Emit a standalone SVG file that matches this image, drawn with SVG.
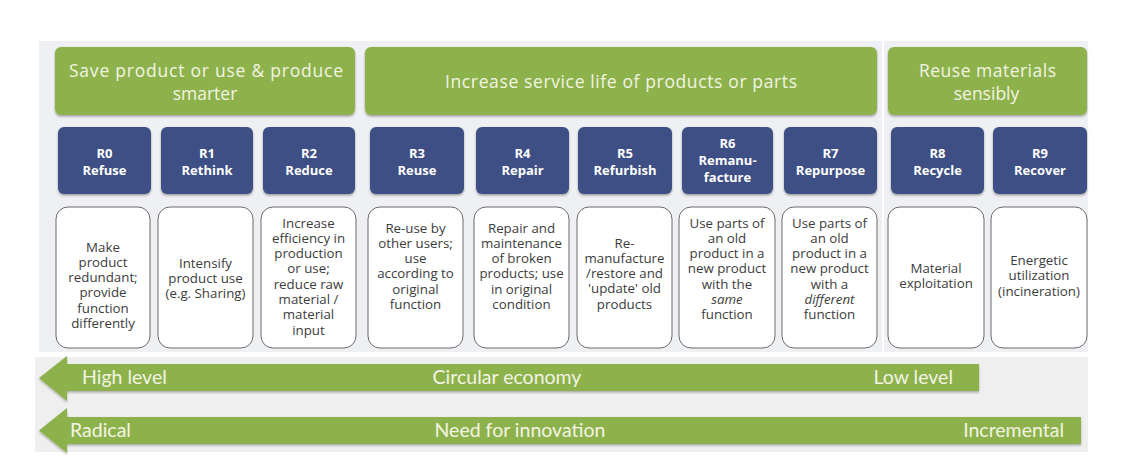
<svg xmlns="http://www.w3.org/2000/svg" width="1146" height="468" viewBox="0 0 1146 468">
<style>
.bg{fill:#eff0f3}
.bg2{fill:#efefef}
.hdr{fill:#8eb24b;filter:url(#sh)}
.htx{font-family:"Open Sans","Noto Sans",sans-serif;font-size:17.5px;fill:#f1f4e4;text-anchor:middle}
.rb{fill:#3d5084;filter:url(#sh)}
.rtx{font-family:"Open Sans","Noto Sans",sans-serif;font-size:13px;font-weight:bold;fill:#ffffff;text-anchor:middle}
.db{fill:#ffffff;stroke:#6a6a6a;stroke-width:1}
.dtx{font-family:"Open Sans","Noto Sans",sans-serif;font-size:13.3px;fill:#3c3c3c;text-anchor:middle}
.arw{fill:#8eb24b;filter:url(#sh2)}
.atx{font-family:Lato,"Open Sans",sans-serif;font-size:19.5px;fill:#f1f4e4}
</style>
<defs>
<filter id="sh" x="-10%" y="-10%" width="120%" height="130%">
<feDropShadow dx="0" dy="1.5" stdDeviation="1.2" flood-color="#000" flood-opacity="0.35"/>
</filter>
<filter id="sh2" x="-5%" y="-20%" width="110%" height="150%">
<feDropShadow dx="0" dy="1.5" stdDeviation="1" flood-color="#000" flood-opacity="0.3"/>
</filter>
</defs>
<rect width="1146" height="468" fill="#ffffff"/>
<rect class="bg" x="39" y="41" width="843" height="311"/>
<rect class="bg" x="884" y="41" width="204" height="311"/>
<rect class="bg2" x="35" y="357" width="1053" height="95"/>

<g id="header-save">
<rect class="hdr" x="55" y="47" width="300" height="68" rx="6"/>
<text class="htx" x="206" y="77" textLength="274" lengthAdjust="spacing">Save product or use &amp; produce</text>
<text class="htx" x="205" y="100">smarter</text>
</g>
<g id="header-increase">
<rect class="hdr" x="365" y="47" width="512" height="68" rx="6"/>
<text class="htx" x="621" y="88" textLength="352" lengthAdjust="spacing">Increase service life of products or parts</text>
</g>
<g id="header-reuse">
<rect class="hdr" x="888" y="47" width="199" height="68" rx="6"/>
<text class="htx" x="987.5" y="77" textLength="137" lengthAdjust="spacing">Reuse materials</text>
<text class="htx" x="986.5" y="100">sensibly</text>
</g>

<g id="r0">
<rect class="rb" x="58" y="127" width="93" height="67" rx="6"/>
<text class="rtx" x="104.5" y="158">R0</text><text class="rtx" x="104.5" y="175">Refuse</text>
</g>
<g id="r1">
<rect class="rb" x="161" y="127" width="92" height="67" rx="6"/>
<text class="rtx" x="207" y="158">R1</text><text class="rtx" x="207" y="175">Rethink</text>
</g>
<g id="r2">
<rect class="rb" x="263" y="127" width="92" height="67" rx="6"/>
<text class="rtx" x="309" y="158">R2</text><text class="rtx" x="309" y="175">Reduce</text>
</g>
<g id="r3">
<rect class="rb" x="370" y="127" width="94" height="67" rx="6"/>
<text class="rtx" x="417" y="158">R3</text><text class="rtx" x="417" y="175">Reuse</text>
</g>
<g id="r4">
<rect class="rb" x="476" y="127" width="93" height="67" rx="6"/>
<text class="rtx" x="522.5" y="158">R4</text><text class="rtx" x="522.5" y="175">Repair</text>
</g>
<g id="r5">
<rect class="rb" x="578" y="127" width="94" height="67" rx="6"/>
<text class="rtx" x="625" y="158">R5</text><text class="rtx" x="625" y="175">Refurbish</text>
</g>
<g id="r6">
<rect class="rb" x="682" y="127" width="91" height="67" rx="6"/>
<text class="rtx" x="727.5" y="148">R6</text><text class="rtx" x="727.5" y="165">Remanu-</text><text class="rtx" x="727.5" y="182">facture</text>
</g>
<g id="r7">
<rect class="rb" x="784" y="127" width="93" height="67" rx="6"/>
<text class="rtx" x="830.5" y="158">R7</text><text class="rtx" x="830.5" y="175">Repurpose</text>
</g>
<g id="r8">
<rect class="rb" x="891" y="127" width="93" height="67" rx="6"/>
<text class="rtx" x="937.5" y="158">R8</text><text class="rtx" x="937.5" y="175">Recycle</text>
</g>
<g id="r9">
<rect class="rb" x="993" y="127" width="94" height="67" rx="6"/>
<text class="rtx" x="1040" y="158">R9</text><text class="rtx" x="1040" y="175">Recover</text>
</g>

<g id="d0">
<rect class="db" x="56" y="207" width="94" height="141" rx="12"/>
<text class="dtx" x="103" y="251.5"><tspan x="103">Make</tspan><tspan x="103" dy="15.3">product</tspan><tspan x="103" dy="15.3">redundant;</tspan><tspan x="103" dy="15.3">provide</tspan><tspan x="103" dy="15.3">function</tspan><tspan x="103" dy="15.3">differently</tspan></text>
</g>
<g id="d1">
<rect class="db" x="158" y="207" width="95" height="141" rx="12"/>
<text class="dtx" x="205.5" y="267.5"><tspan x="205.5">Intensify</tspan><tspan x="205.5" dy="15.3">product use</tspan><tspan x="205.5" dy="15.3">(e.g. Sharing)</tspan></text>
</g>
<g id="d2">
<rect class="db" x="261" y="207" width="95" height="141" rx="12"/>
<text class="dtx" x="308.5" y="227.5"><tspan x="308.5">Increase</tspan><tspan x="308.5" dy="15.3">efficiency in</tspan><tspan x="308.5" dy="15.3">production</tspan><tspan x="308.5" dy="15.3">or use;</tspan><tspan x="308.5" dy="15.3">reduce raw</tspan><tspan x="308.5" dy="15.3">material /</tspan><tspan x="308.5" dy="15.3">material</tspan><tspan x="308.5" dy="15.3">input</tspan></text>
</g>
<g id="d3">
<rect class="db" x="368" y="207" width="95" height="141" rx="12"/>
<text class="dtx" x="415.5" y="232.5"><tspan x="415.5">Re-use by</tspan><tspan x="415.5" dy="15.3">other users;</tspan><tspan x="415.5" dy="15.3">use</tspan><tspan x="415.5" dy="15.3">according to</tspan><tspan x="415.5" dy="15.3">original</tspan><tspan x="415.5" dy="15.3">function</tspan></text>
</g>
<g id="d4">
<rect class="db" x="474" y="207" width="95" height="141" rx="12"/>
<text class="dtx" x="521.5" y="232.5"><tspan x="521.5">Repair and</tspan><tspan x="521.5" dy="15.3">maintenance</tspan><tspan x="521.5" dy="15.3">of broken</tspan><tspan x="521.5" dy="15.3">products; use</tspan><tspan x="521.5" dy="15.3">in original</tspan><tspan x="521.5" dy="15.3">condition</tspan></text>
</g>
<g id="d5">
<rect class="db" x="577" y="207" width="95" height="141" rx="12"/>
<text class="dtx" x="624.5" y="247.5"><tspan x="624.5">Re-</tspan><tspan x="624.5" dy="15.3">manufacture</tspan><tspan x="624.5" dy="15.3">/restore and</tspan><tspan x="624.5" dy="15.3">'update' old</tspan><tspan x="624.5" dy="15.3">products</tspan></text>
</g>
<g id="d6">
<rect class="db" x="679" y="207" width="96" height="141" rx="12"/>
<text class="dtx" x="727" y="227.5"><tspan x="727">Use parts of</tspan><tspan x="727" dy="15.3">an old</tspan><tspan x="727" dy="15.3">product in a</tspan><tspan x="727" dy="15.3">new product</tspan><tspan x="727" dy="15.3">with the</tspan><tspan x="727" dy="15.3" font-style="italic">same</tspan><tspan x="727" dy="15.3">function</tspan></text>
</g>
<g id="d7">
<rect class="db" x="782" y="207" width="95" height="141" rx="12"/>
<text class="dtx" x="829.5" y="227.5"><tspan x="829.5">Use parts of</tspan><tspan x="829.5" dy="15.3">an old</tspan><tspan x="829.5" dy="15.3">product in a</tspan><tspan x="829.5" dy="15.3">new product</tspan><tspan x="829.5" dy="15.3">with a</tspan><tspan x="829.5" dy="15.3" font-style="italic">different</tspan><tspan x="829.5" dy="15.3">function</tspan></text>
</g>
<g id="d8">
<rect class="db" x="888" y="207" width="96" height="141" rx="12"/>
<text class="dtx" x="936" y="272.8"><tspan x="936">Material</tspan><tspan x="936" dy="15.3">exploitation</tspan></text>
</g>
<g id="d9">
<rect class="db" x="991" y="207" width="96" height="141" rx="12"/>
<text class="dtx" x="1039" y="265"><tspan x="1039">Energetic</tspan><tspan x="1039" dy="15.3">utilization</tspan><tspan x="1039" dy="15.3">(incineration)</tspan></text>
</g>

<g id="connectors">
<g id="arrow-circular-economy">
<polygon class="arw" points="979,364 979,391 67,391 67,401 39,378 67,356 67,364"/>
<text class="atx" x="82" y="384">High level</text>
<text class="atx" x="507" y="384" text-anchor="middle">Circular economy</text>
<text class="atx" x="953" y="384" text-anchor="end">Low level</text>
</g>
<g id="arrow-innovation">
<polygon class="arw" points="1081,417 1081,444 67,444 67,453 39,430.5 67,408 67,417"/>
<text class="atx" x="70" y="437">Radical</text>
<text class="atx" x="520" y="437" text-anchor="middle">Need for innovation</text>
<text class="atx" x="1064" y="437" text-anchor="end">Incremental</text>
</g>
</g>
</svg>
